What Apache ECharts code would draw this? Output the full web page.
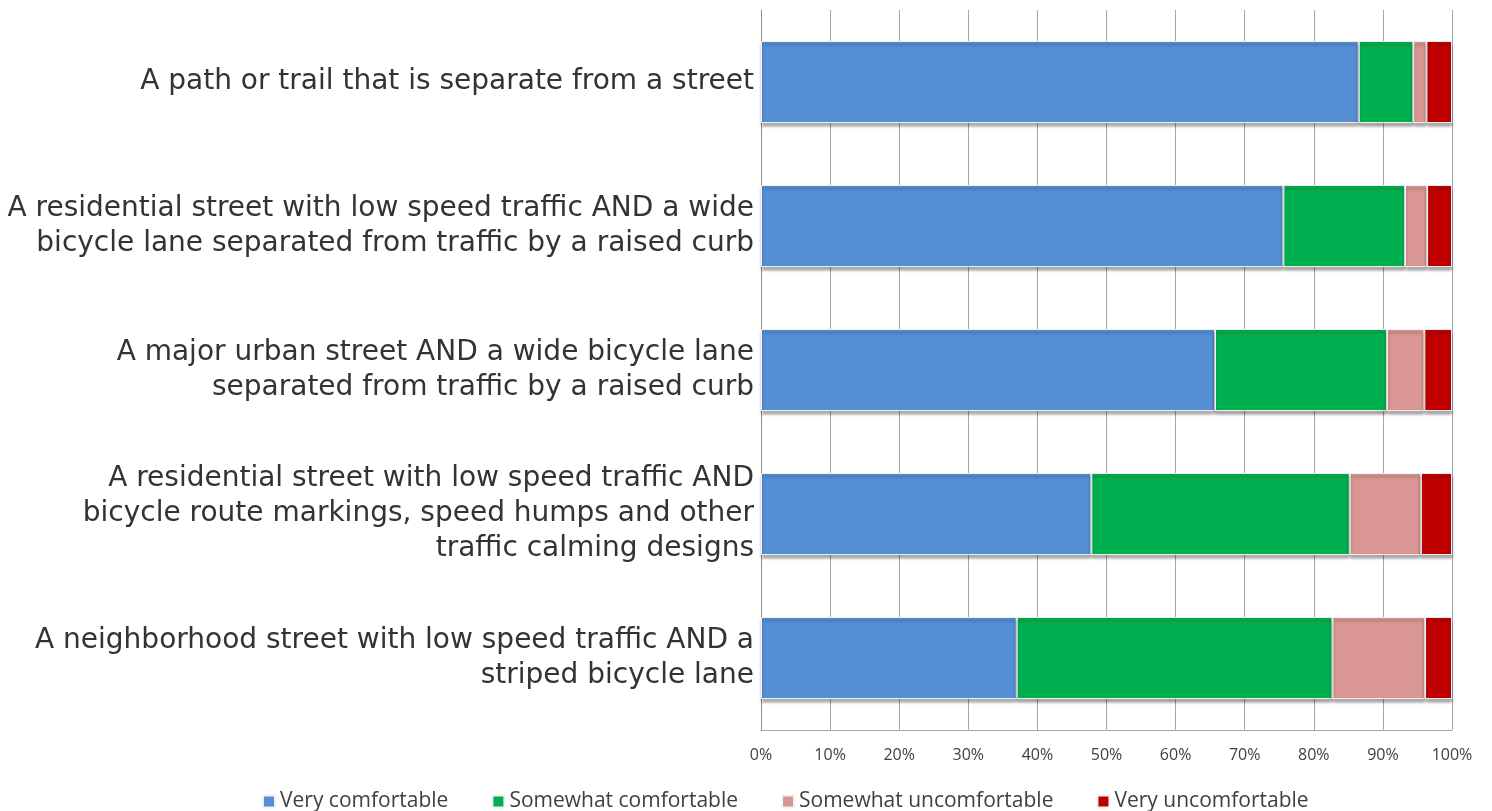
<!DOCTYPE html>
<html>
<head>
<meta charset="utf-8">
<title>Bicycle comfort</title>
<script src="https://cdn.jsdelivr.net/npm/echarts@6/dist/echarts.min.js"></script>
<style>
  html, body { margin: 0; padding: 0; background: #fff; }
  #main { width: 1492px; height: 811px; }
</style>
</head>
<body>
<div id="main"></div>
<script>
// categories, top to bottom
var categories = [
  'A path or trail that is separate from a street',
  'A residential street with low speed traffic AND a wide\nbicycle lane separated from traffic by a raised curb',
  'A major urban street AND a wide bicycle lane\nseparated from traffic by a raised curb',
  'A residential street with low speed traffic AND\nbicycle route markings, speed humps and other\ntraffic calming designs',
  'A neighborhood street with low speed traffic AND a\nstriped bicycle lane'
];
var seriesNames = ['Very comfortable', 'Somewhat comfortable', 'Somewhat uncomfortable', 'Very uncomfortable'];
// percentages
var veryComfortable = [86.5, 75.6, 65.7, 47.8, 37.0];
var somewhatComfortable = [7.9, 17.6, 24.9, 37.4, 45.7];
var somewhatUncomfortable = [1.9, 3.2, 5.4, 10.3, 13.4];
var veryUncomfortable = [3.7, 3.6, 4.0, 4.5, 3.9];
var colors = ['#558ed5', '#00b050', '#d99694', '#c00000'];

var chart = echarts.init(document.getElementById('main'));

function makeSeries(name, data, color) {
  return {
    name: name,
    type: 'bar',
    stack: 'total',
    barWidth: '57%',
    data: data,
    itemStyle: {
      color: color,
      borderColor: '#f2f2f2',
      borderWidth: 1,
      shadowColor: 'rgba(0,0,0,0.35)',
      shadowBlur: 3,
      shadowOffsetY: 3
    }
  };
}

var option = {
  animation: false,
  grid: { left: 761, right: 40, top: 10, bottom: 81 },
  legend: {
    top: 786,
    left: 257,
    itemWidth: 12,
    itemHeight: 12,
    itemGap: 43,
    icon: 'rect',
    textStyle: { fontFamily: 'Open Sans', fontSize: 21, color: '#404040' },
    data: seriesNames
  },
  xAxis: {
    type: 'value',
    min: 0,
    max: 100,
    interval: 10,
    axisLine: { show: true, lineStyle: { color: '#a6a6a6' } },
    axisTick: { show: false },
    splitLine: { lineStyle: { color: '#a6a6a6', width: 1 } },
    axisLabel: {
      formatter: '{value}%',
      fontFamily: 'Open Sans',
      fontSize: 16,
      color: '#404040',
      margin: 17
    }
  },
  yAxis: {
    type: 'category',
    inverse: true,
    data: categories,
    axisLine: { show: true, lineStyle: { color: '#8c8c8c' } },
    axisTick: { show: false },
    axisLabel: {
      fontFamily: 'DejaVu Sans',
      fontSize: 28,
      lineHeight: 35,
      color: '#333333',
      align: 'right',
      margin: 7
    }
  },
  series: [
    makeSeries(seriesNames[0], veryComfortable, colors[0]),
    makeSeries(seriesNames[1], somewhatComfortable, colors[1]),
    makeSeries(seriesNames[2], somewhatUncomfortable, colors[2]),
    makeSeries(seriesNames[3], veryUncomfortable, colors[3])
  ]
};

chart.setOption(option);
</script>
</body>
</html>
